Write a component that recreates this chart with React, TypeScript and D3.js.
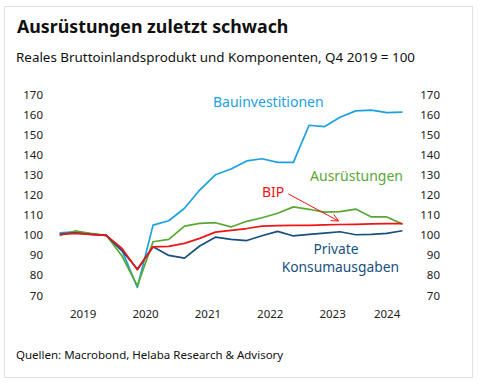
import React from "react";
import * as d3 from "d3";

// quarters Q1 2019 .. Q3 2024
const quarters = d3.range(23).map(i => ({ year: 2019 + Math.floor(i / 4), q: (i % 4) + 1 }));

const bauinvestitionen = [101.3, 101.8, 100.6, 100, 92.5, 74, 105.1, 107.3, 113.5, 122.6, 130.2, 133.1,
  137.1, 138.2, 136.4, 136.4, 154.9, 154.2, 158.9, 162.1, 162.5, 161.2, 161.5];
const ausruestungen = [99.8, 102.2, 101, 100, 89.7, 74.8, 96.8, 98, 104.6, 106, 106.3, 104.2,
  107, 108.8, 111, 114.2, 113, 111.6, 111.8, 113.1, 109.2, 109.2, 105.6];
const bip = [100.5, 101, 100.5, 100, 93.5, 82.8, 94.3, 94.5, 96, 98.5, 101.6, 102.5,
  103.4, 104.6, 104.9, 105, 105, 105.2, 105.4, 105.5, 105.7, 105.8, 105.8];
const konsum = [100.6, 101.2, 100.5, 100, 92.3, 83.2, 94.3, 90, 88.6, 94.7, 99.1, 98,
  97.4, 99.8, 102, 99.7, 100.5, 101.1, 101.8, 100.3, 100.5, 101, 102.3];

const yTicks = [70, 80, 90, 100, 110, 120, 130, 140, 150, 160, 170];
const years = [2019, 2020, 2021, 2022, 2023, 2024];

const series = [
  { name: "Bauinvestitionen", values: bauinvestitionen, color: "#1ba1e2" },
  { name: "Ausrüstungen", values: ausruestungen, color: "#58a836" },
  { name: "Private Konsumausgaben", values: konsum, color: "#17507f" },
  { name: "BIP", values: bip, color: "#f01414" },
];

const font = "'Noto Sans', 'Open Sans', sans-serif";

export default function App() {
  const width = 478, height = 384;
  const start = new Date(2019, 0, 1);
  const end = new Date(2024, 9, 1);
  const x = d3.scaleTime().domain([start, end]).range([52, 410.5]);
  const y = d3.scaleLinear().domain([70, 170]).range([295.5, 95]);

  const qDate = (d: { year: number; q: number }) => new Date(d.year, (d.q - 1) * 3 + 1, 15);

  const line = d3.line<number>()
    .x((_, i) => x(qDate(quarters[i])))
    .y(v => y(v));

  // arrow BIP label -> BIP line
  const ax0 = 288.5, ay0 = 194, ax1 = 338.5, ay1 = 221;
  const ang = Math.atan2(ay1 - ay0, ax1 - ax0);
  const head = 8, spread = 0.45;
  const h1 = [ax1 - head * Math.cos(ang - spread), ay1 - head * Math.sin(ang - spread)];
  const h2 = [ax1 - head * Math.cos(ang + spread), ay1 - head * Math.sin(ang + spread)];

  return (
    <svg width={width} height={height} style={{ position: "absolute", left: 0, top: 0 }} fontFamily={font}>
      <rect x={0} y={0} width={width} height={height} fill="#fff" />
      <rect x={4.5} y={6.5} width={468} height={371} fill="none" stroke="#e2e2e2" />
      <text x={17} y={33} fontSize={17.8} fontWeight="bold" fill="#111">Ausrüstungen zuletzt schwach</text>
      <text x={16} y={62} fontSize={13.4} fill="#111">Reales Bruttoinlandsprodukt und Komponenten, Q4 2019 = 100</text>

      {yTicks.map(t => (
        <g key={t} fontSize={11.5} fill="#222">
          <text x={43} y={y(t)} dy="0.35em" textAnchor="end">{t}</text>
          <text x={440} y={y(t)} dy="0.35em" textAnchor="end">{t}</text>
        </g>
      ))}

      {years.map(yr => {
        const a = new Date(yr, 0, 1);
        const b = yr === 2024 ? end : new Date(yr + 1, 0, 1);
        return (
          <text key={yr} x={(x(a) + x(b)) / 2} y={314} dy="0.35em" textAnchor="middle" fontSize={11.5} fill="#222">{yr}</text>
        );
      })}

      {series.map(s => (
        <path key={s.name} d={line(s.values) || ""} fill="none" stroke={s.color} strokeWidth={1.7} strokeLinejoin="round" />
      ))}

      <text x={213} y={107} fontSize={14} fill="#1ba1e2">Bauinvestitionen</text>
      <text x={403} y={181} fontSize={14} fill="#58a836" textAnchor="end">Ausrüstungen</text>
      <text x={262} y={197} fontSize={14} fill="#f01414">BIP</text>
      <text x={336} y={254} fontSize={13.8} fill="#17507f" textAnchor="middle">Private</text>
      <text x={399} y={272} fontSize={13.8} fill="#17507f" textAnchor="end">Konsumausgaben</text>

      <g stroke="#f01414" strokeWidth={1} fill="none">
        <line x1={ax0} y1={ay0} x2={ax1} y2={ay1} />
        <polyline points={`${h1[0]},${h1[1]} ${ax1},${ay1} ${h2[0]},${h2[1]}`} />
      </g>

      <text x={16} y={359} fontSize={11.5} fill="#111">Quellen: Macrobond, Helaba Research &amp; Advisory</text>
    </svg>
  );
}
